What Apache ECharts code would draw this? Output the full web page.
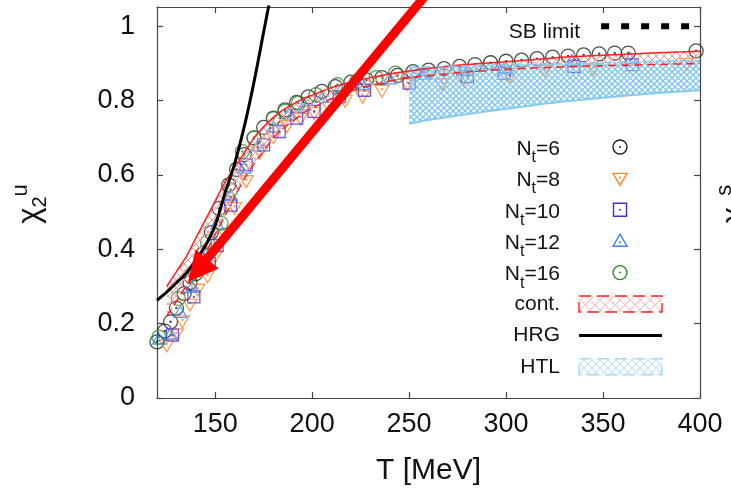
<!DOCTYPE html>
<html><head><meta charset="utf-8">
<script src="https://cdn.jsdelivr.net/npm/echarts@6/dist/echarts.min.js"></script>
<style>html,body{margin:0;padding:0;background:#fff}#c{width:731px;height:494px}</style>
</head><body><div id="c"></div>
<script>
// ---- data ----
const xTicks = [150, 200, 250, 300, 350, 400];
const yTicks = [0, 0.2, 0.4, 0.6, 0.8, 1];

const nt6T = [120,124,127,130,134,137,140,144,148,152,157,161,165,170,175,180,186,192,198,205,212,220,228,236,244,252,260,268,276,284,292,300,308,316,324,332,340,348,356,363,398];
const nt6V = [0.151,0.18,0.205,0.242,0.281,0.31,0.335,0.39,0.445,0.51,0.573,0.615,0.655,0.7,0.728,0.752,0.775,0.795,0.81,0.825,0.838,0.85,0.856,0.862,0.868,0.878,0.882,0.886,0.892,0.897,0.902,0.906,0.909,0.913,0.917,0.92,0.923,0.926,0.928,0.928,0.934];

const nt8T = [125,130,133,137,141,146,150,155,160,166,173,180,187,194,201,209,217,226,236,249,267,278,302,320,345,393];
const nt8V = [0.14,0.17,0.205,0.25,0.29,0.326,0.38,0.44,0.51,0.582,0.659,0.7,0.73,0.75,0.765,0.78,0.798,0.81,0.825,0.843,0.843,0.856,0.864,0.879,0.883,0.897];

const nt10T = [128,139,147,151,158,166,175,183,192,201,214,227,250,280,299,335,365];
const nt10V = [0.169,0.272,0.362,0.41,0.519,0.627,0.681,0.717,0.753,0.771,0.811,0.828,0.847,0.865,0.874,0.892,0.897];

const nt12T = [121,127,132,138,144,151,158,165,172,180,188,196,205,215,226,240,258,278,300,334,364];
const nt12V = [0.16,0.174,0.232,0.299,0.394,0.47,0.546,0.62,0.68,0.73,0.765,0.79,0.81,0.83,0.845,0.86,0.873,0.883,0.89,0.91,0.915];

const nt16T = [121,131,137,146,153,158,164,170,180,186,193,202,213,223,233,243];
const nt16V = [0.164,0.268,0.33,0.42,0.47,0.56,0.663,0.699,0.753,0.771,0.794,0.816,0.843,0.852,0.862,0.874];

const hrgT = [120,125,130,135,140,145,150,155,160,165,170,175,180];
const hrgV = [0.263,0.285,0.31,0.335,0.37,0.41,0.465,0.55,0.63,0.73,0.85,0.985,1.12];

const contT  = [125,130,135,140,145,150,155,160,165,170,175,180,185,190,195,200,210,220,230,240,250,275,300,325,350,375,400];
const contLo = [0.22,0.26,0.30,0.34,0.39,0.44,0.49,0.54,0.59,0.63,0.665,0.70,0.725,0.745,0.765,0.78,0.805,0.825,0.84,0.852,0.862,0.875,0.884,0.89,0.894,0.897,0.9];
const contHi = [0.30,0.34,0.38,0.43,0.48,0.53,0.58,0.62,0.66,0.70,0.73,0.755,0.775,0.79,0.805,0.815,0.835,0.85,0.862,0.872,0.88,0.895,0.905,0.915,0.922,0.928,0.933];

const htlT  = [250,260,275,300,325,350,375,400];
const htlLo = [0.738,0.748,0.76,0.778,0.795,0.808,0.819,0.828];
const htlHi = [0.89,0.891,0.893,0.897,0.9,0.903,0.906,0.908];

const sbT = [349, 400];
const sbV = [1, 1];

const legendLabels = ['6', '8', '10', '12', '16'];

// ---- styling ----
const FONT = "'Liberation Sans', Arial, Helvetica, sans-serif";
const C6 = '#222222', C8 = '#ff8324', C10 = '#4b2bd6', C12 = '#2f86ff', C16 = '#2a8c2a';
const CRED = '#ff2020', CHTL = '#86c9f2';

function hatch(color, step, lw) {
  const c = document.createElement('canvas');
  c.width = step; c.height = step;
  const g = c.getContext('2d');
  g.strokeStyle = color; g.lineWidth = lw;
  g.beginPath();
  g.moveTo(-1, -1); g.lineTo(step + 1, step + 1);
  g.moveTo(step + 1, -1); g.lineTo(-1, step + 1);
  g.stroke();
  return c;
}
const htlPat = { image: hatch('#7cc4f0', 6, 1.3), repeat: 'repeat' };
const htlLegPat = { image: hatch('#c4e4f8', 8, 1.2), repeat: 'repeat' };
const contPat = { image: hatch('#ff9a9a', 8, 1), repeat: 'repeat' };
const contLegPat = { image: hatch('#ffc4c4', 10, 1.2), repeat: 'repeat' };

const dot = (cx, cy) => `M${cx + 0.9},${cy}A0.9,0.9,0,1,1,${cx - 0.9},${cy}A0.9,0.9,0,1,1,${cx + 0.9},${cy}Z`;
const SYM_CIRCLE = 'path://M10,0A10,10,0,1,1,-10,0A10,10,0,1,1,10,0Z' + dot(0, 0);
const SYM_TRIDOWN = 'path://M-10,-7L10,-7L0,10Z' + dot(0, -1.5);
const SYM_SQUARE = 'path://M-10,-10L10,-10L10,10L-10,10Z' + dot(0, 0);
const SYM_TRIUP = 'path://M-10,7L10,7L0,-10Z' + dot(0, 1.5);

function pairs(xs, ys) { return xs.map((x, i) => [x, ys[i]]); }

function scatter(name, xs, ys, sym, size, color) {
  return {
    name, type: 'scatter', data: pairs(xs, ys), symbol: sym, symbolSize: size, symbolKeepAspect: true,
    itemStyle: { color: 'rgba(0,0,0,0)', borderColor: color, borderWidth: 1.3 },
    emphasis: { disabled: true }, z: 3
  };
}

function band(name, xs, lo, hi, pattern, z) {
  return {
    name, type: 'custom', coordinateSystem: 'cartesian2d', data: [[xs[0], lo[0]]], z, silent: true,
    renderItem: function (params, api) {
      const pts = [];
      for (let i = 0; i < xs.length; i++) pts.push(api.coord([xs[i], hi[i]]));
      for (let i = xs.length - 1; i >= 0; i--) pts.push(api.coord([xs[i], lo[i]]));
      return { type: 'polygon', shape: { points: pts }, style: { fill: pattern, stroke: null } };
    }
  };
}

function line(name, xs, ys, color, width, type, z, smooth) {
  return {
    name, type: 'line', data: pairs(xs, ys), symbol: 'none', smooth: smooth || 0, clip: true,
    lineStyle: { color, width, type: type || 'solid' }, z, silent: true, emphasis: { disabled: true }
  };
}

// ---- legend (graphic) ----
const legendY0 = 147, legendStep = 31.4, legendTextX = 560, legendSymX = 620;
const graphics = [];
const legendColors = [C6, C8, C10, C12, C16];
const nRich = {
  n: { fontSize: 21, fontFamily: FONT, fill: '#111', lineHeight: 33, verticalAlign: 'middle' },
  s: { fontSize: 16, fontFamily: FONT, fill: '#111', lineHeight: 33, verticalAlign: 'bottom' }
};
legendLabels.forEach((lab, i) => {
  const y = legendY0 + i * legendStep;
  graphics.push({ type: 'text', x: legendTextX, y: y + 2, z: 10,
    style: { text: `{n|N}{s|t}{n|=${lab}}`, rich: nRich, align: 'right', verticalAlign: 'middle' } });
  const c = legendColors[i];
  let shape;
  if (i === 0 || i === 4) {
    shape = { type: 'circle', shape: { cx: legendSymX, cy: y, r: 7 }, style: { fill: null, stroke: c, lineWidth: 1.4 } };
  } else if (i === 1) {
    shape = { type: 'polygon', shape: { points: [[legendSymX - 7, y - 5], [legendSymX + 7, y - 5], [legendSymX, y + 7]] }, style: { fill: null, stroke: c, lineWidth: 1.4 } };
  } else if (i === 2) {
    shape = { type: 'rect', shape: { x: legendSymX - 6.5, y: y - 6.5, width: 13, height: 13 }, style: { fill: null, stroke: c, lineWidth: 1.4 } };
  } else {
    shape = { type: 'polygon', shape: { points: [[legendSymX - 7, y + 5], [legendSymX + 7, y + 5], [legendSymX, y - 7]] }, style: { fill: null, stroke: c, lineWidth: 1.4 } };
  }
  shape.z = 10;
  graphics.push(shape);
  graphics.push({ type: 'circle', z: 10, shape: { cx: legendSymX, cy: (i === 1 ? y - 1 : i === 3 ? y + 1 : y), r: 1 }, style: { fill: c } });
});
const plainLegend = [['cont.', 5], ['HRG', 6], ['HTL', 7]];
plainLegend.forEach(([t, k]) => {
  graphics.push({ type: 'text', x: legendTextX, y: legendY0 + k * legendStep, z: 10,
    style: { text: t, fontSize: 21, fontFamily: FONT, fill: '#111', align: 'right', verticalAlign: 'middle' } });
});
const lx0 = 579, lx1 = 662;
let yc = legendY0 + 5 * legendStep;
graphics.push({ type: 'rect', z: 10, shape: { x: lx0, y: yc - 8, width: lx1 - lx0, height: 16 }, style: { fill: contLegPat, stroke: CRED, lineWidth: 1.4, lineDash: [12, 6] } });
yc = legendY0 + 6 * legendStep;
graphics.push({ type: 'line', z: 10, shape: { x1: lx0, y1: yc, x2: lx1, y2: yc }, style: { stroke: '#000', lineWidth: 3 } });
yc = legendY0 + 7 * legendStep;
graphics.push({ type: 'rect', z: 10, shape: { x: lx0, y: yc - 8, width: lx1 - lx0, height: 16 }, style: { fill: htlLegPat, stroke: '#a8daf6', lineWidth: 1.4, lineDash: [12, 6] } });

// SB limit label
graphics.push({ type: 'text', x: 580, y: 32, z: 10, style: { text: 'SB limit', fontSize: 21, fontFamily: FONT, fill: '#111', align: 'right', verticalAlign: 'middle' } });

// y axis title and cut-off neighbour title
const yRich = {
  x: { fontSize: 31, fontFamily: FONT, fill: '#111', lineHeight: 40, verticalAlign: 'middle' },
  b: { fontSize: 20, fontFamily: FONT, fill: '#111', lineHeight: 40, verticalAlign: 'bottom' },
  u: { fontSize: 22, fontFamily: FONT, fill: '#111', lineHeight: 40, verticalAlign: 'top' }
};
graphics.push({ type: 'text', x: 30, y: 204, rotation: Math.PI / 2, z: 10,
  style: { text: '{x|χ}{b|2}{u|u}', rich: yRich, align: 'center', verticalAlign: 'middle' } });
graphics.push({ type: 'text', x: 734, y: 204, rotation: Math.PI / 2, z: 10,
  style: { text: '{x|χ}{b|2}{u|s}', rich: yRich, align: 'center', verticalAlign: 'middle' } });

// red annotation arrow
(function () {
  const sx = 430, sy = -10, tx = 188, ty = 282;
  const dx = tx - sx, dy = ty - sy, L = Math.hypot(dx, dy);
  const ux = dx / L, uy = dy / L, px = -uy, py = ux;
  const hl = 30, hw = 15;
  const bx = tx - hl * ux, by = ty - hl * uy;
  graphics.push({ type: 'line', z: 20, shape: { x1: sx, y1: sy, x2: bx + 2 * ux, y2: by + 2 * uy }, style: { stroke: '#ff0000', lineWidth: 9 } });
  graphics.push({ type: 'polygon', z: 20, shape: { points: [[tx, ty], [bx + hw * px, by + hw * py], [bx - hw * px, by - hw * py]] }, style: { fill: '#ff0000' } });
})();

const axisCol = '#444';
const option = {
  backgroundColor: '#fff',
  animation: false,
  grid: { left: 157, right: 31, top: 7, bottom: 96, containLabel: false },
  xAxis: [{
    type: 'value', min: 120, max: 400, position: 'bottom',
    axisLine: { show: true, onZero: false, lineStyle: { color: axisCol, width: 1.2 } },
    axisTick: { show: true, inside: true, length: 6, customValues: xTicks, lineStyle: { color: axisCol, width: 1.2 } },
    axisLabel: { show: true, customValues: xTicks, margin: 13, fontSize: 27, fontFamily: FONT, color: '#111' },
    splitLine: { show: false },
    name: 'T [MeV]', nameLocation: 'middle', nameGap: 58,
    nameTextStyle: { fontSize: 30, fontFamily: FONT, color: '#111' }
  }, {
    type: 'value', min: 120, max: 400, position: 'top',
    axisLine: { show: true, onZero: false, lineStyle: { color: axisCol, width: 1.2 } },
    axisTick: { show: true, inside: true, length: 6, customValues: xTicks, lineStyle: { color: axisCol, width: 1.2 } },
    axisLabel: { show: false }, splitLine: { show: false }
  }],
  yAxis: [{
    type: 'value', min: 0, max: 1.052, position: 'left',
    axisLine: { show: true, onZero: false, lineStyle: { color: axisCol, width: 1.2 } },
    axisTick: { show: true, inside: true, length: 6, customValues: yTicks, lineStyle: { color: axisCol, width: 1.2 } },
    axisLabel: { show: true, customValues: yTicks, margin: 22, fontSize: 27, fontFamily: FONT, color: '#111' },
    splitLine: { show: false }
  }, {
    type: 'value', min: 0, max: 1.052, position: 'right',
    axisLine: { show: true, onZero: false, lineStyle: { color: axisCol, width: 1.2 } },
    axisTick: { show: true, inside: true, length: 6, customValues: yTicks, lineStyle: { color: axisCol, width: 1.2 } },
    axisLabel: { show: false }, splitLine: { show: false }
  }],
  series: [
    scatter('Nt=6', nt6T, nt6V, SYM_CIRCLE, 14, C6),
    scatter('Nt=8', nt8T, nt8V, SYM_TRIDOWN, 14, C8),
    scatter('Nt=10', nt10T, nt10V, SYM_SQUARE, 12, C10),
    scatter('Nt=12', nt12T, nt12V, SYM_TRIUP, 13, C12),
    scatter('Nt=16', nt16T, nt16V, SYM_CIRCLE, 14, C16),
    band('cont.', contT, contLo, contHi, contPat, 4),
    line('cont. upper', contT, contHi, CRED, 1.5, 'solid', 5, 0.3),
    line('cont. lower', contT, contLo, CRED, 1.5, [8, 5], 5, 0.3),
    line('HRG', hrgT, hrgV, '#000', 3, 'solid', 6, 0.3),
    band('HTL', htlT, htlLo, htlHi, htlPat, 4),
    line('HTL lower', htlT, htlLo, CHTL, 2, 'solid', 5, 0.3),
    line('HTL upper', htlT, htlHi, CHTL, 1.5, [8, 5], 5, 0.3),
    line('SB limit', sbT, sbV, '#000', 6, [8, 12], 6, 0)
  ],
  graphic: graphics
};
const chart = echarts.init(document.getElementById('c'), null, { renderer: 'canvas', width: 731, height: 494 });
chart.setOption(option);
</script>
</body></html>
